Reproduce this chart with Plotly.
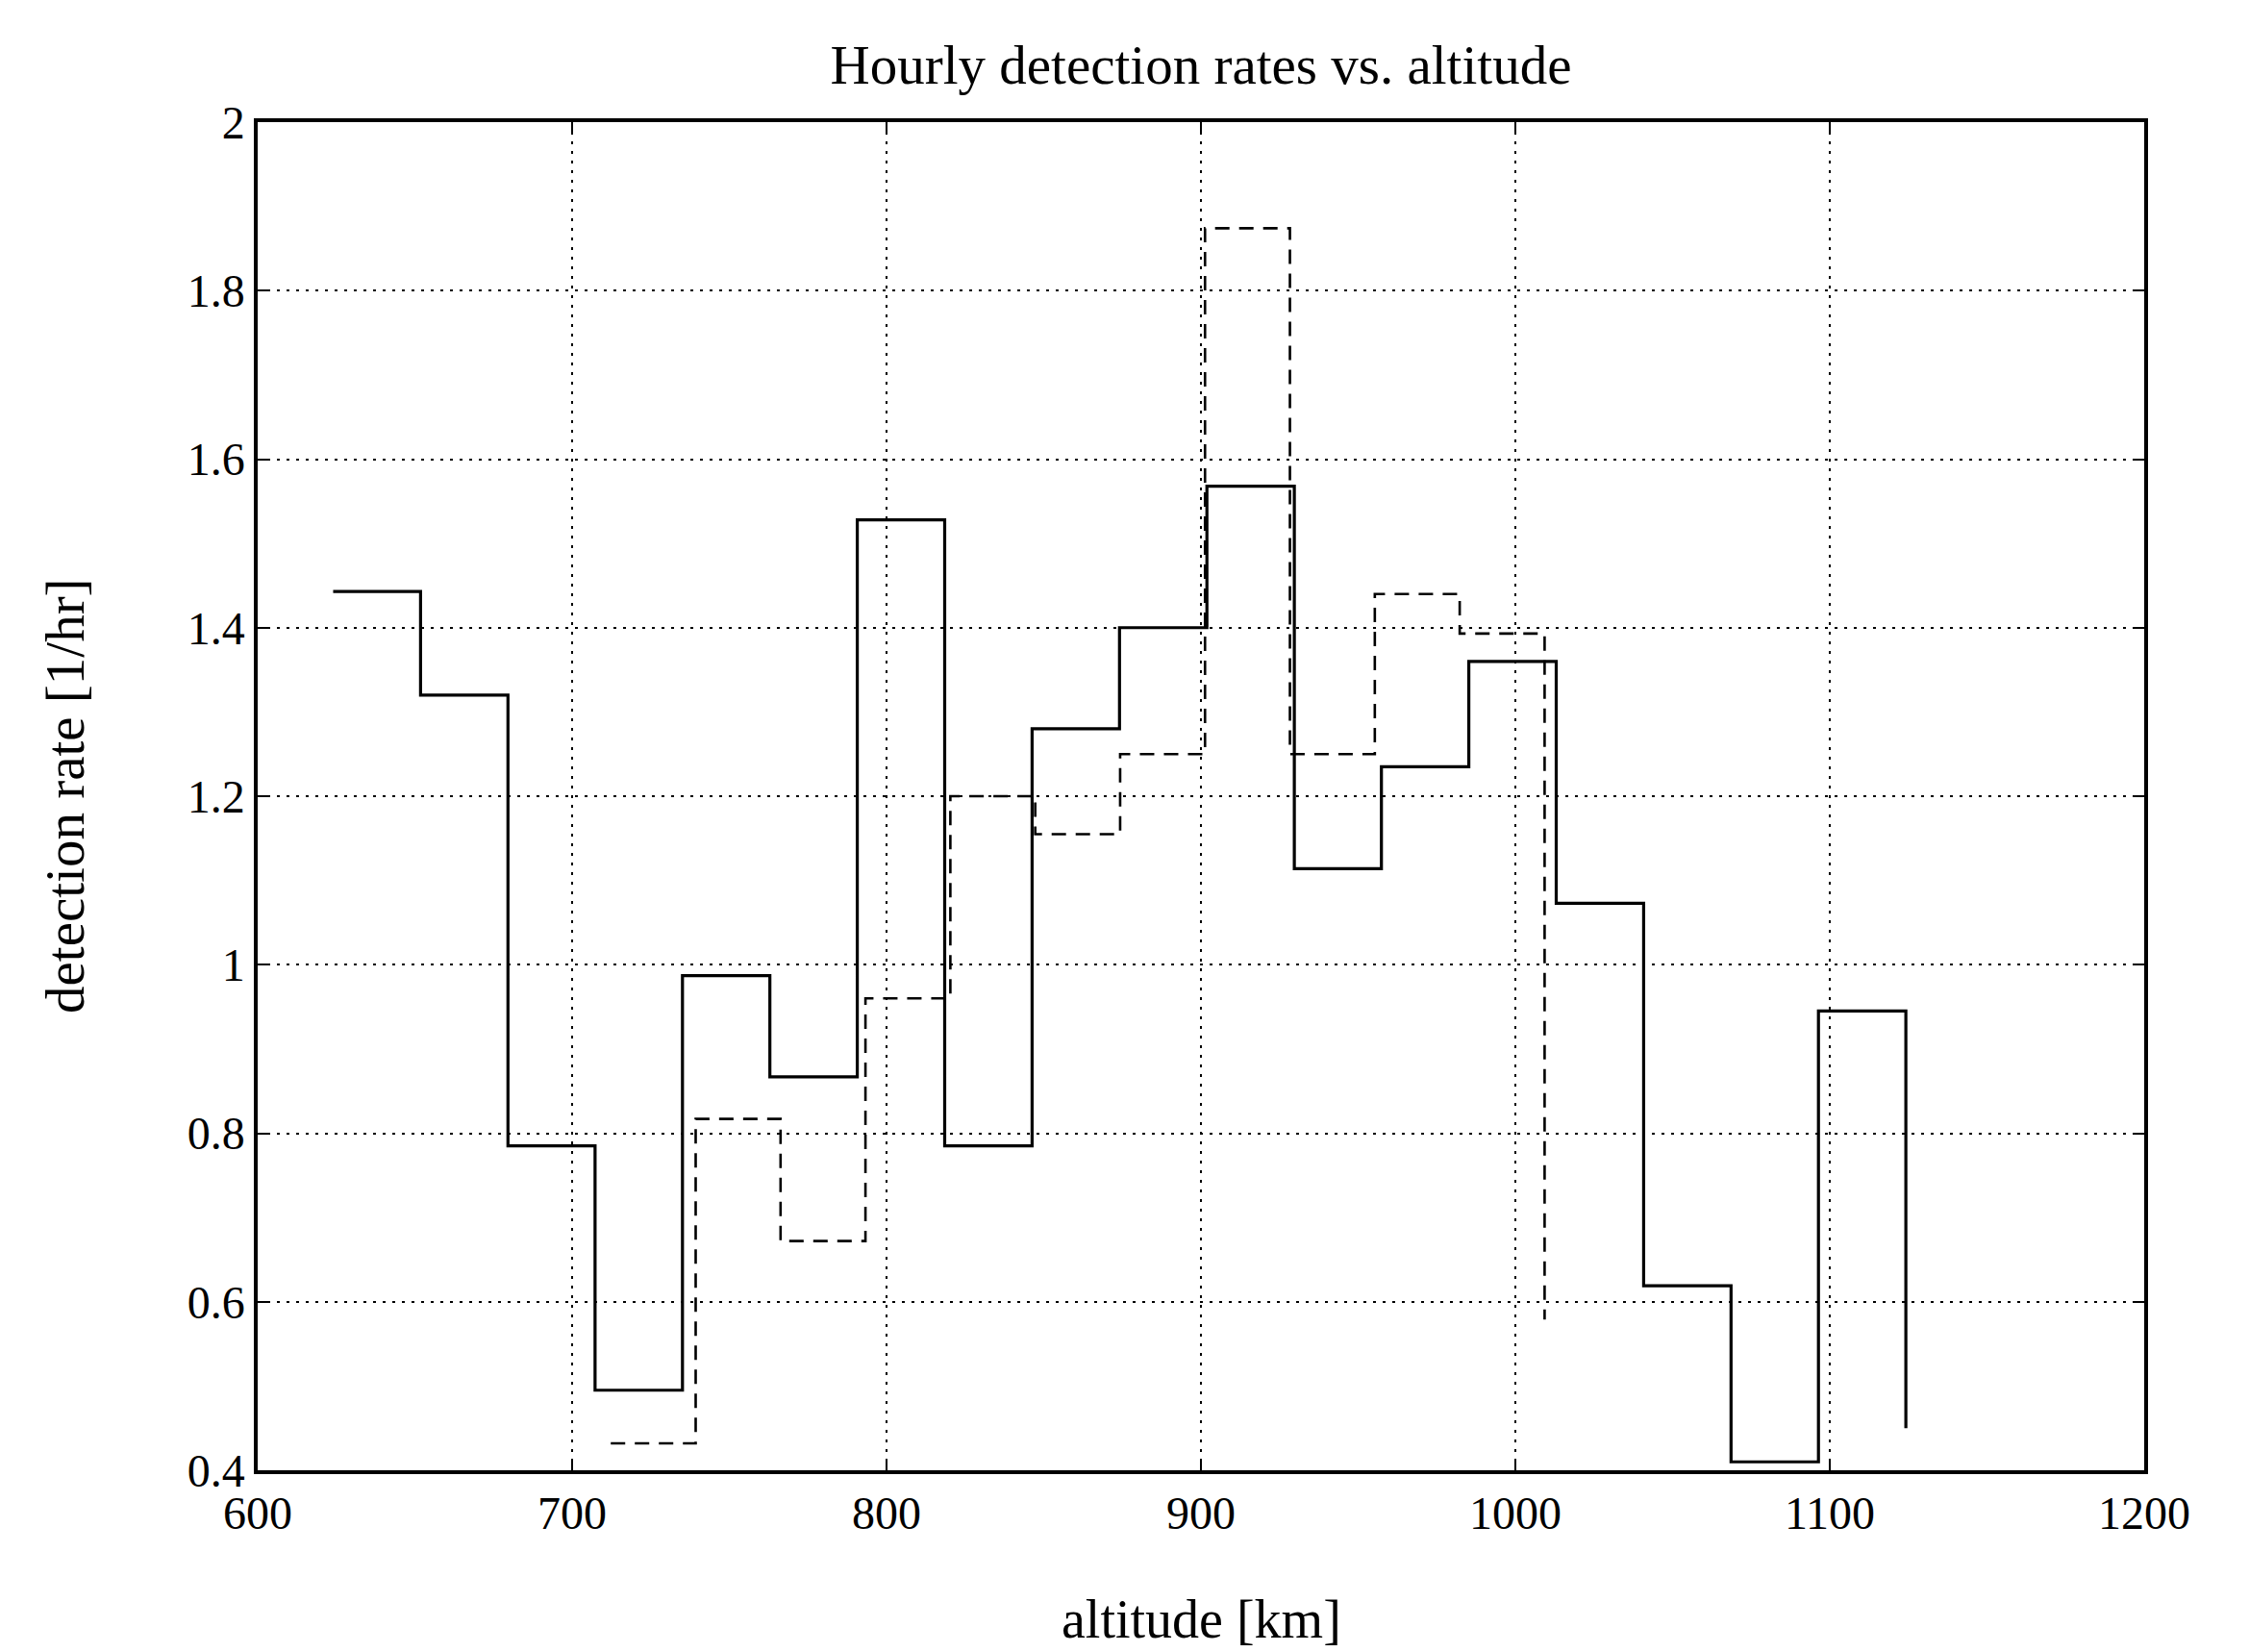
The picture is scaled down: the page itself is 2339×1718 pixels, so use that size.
import plotly.graph_objects as go

# Stairs data (MATLAB-style: horizontal from x[i] to x[i+1] at y[i])
solid_alt = [624.0, 651.8, 679.6, 707.3, 735.1, 762.9, 790.7, 818.5, 846.3, 874.1,
             901.9, 929.7, 957.4, 985.2, 1013.0, 1040.8, 1068.6, 1096.4, 1124.2]
solid_rate = [1.443, 1.32, 0.785, 0.495, 0.987, 0.867, 1.528, 0.785, 1.28, 1.40,
              1.568, 1.114, 1.235, 1.36, 1.073, 0.619, 0.41, 0.945, 0.45]

dashed_alt = [712.3, 739.3, 766.3, 793.3, 820.3, 847.3, 874.3, 901.3, 928.3,
              955.3, 982.3, 1009.3]
dashed_rate = [0.432, 0.817, 0.672, 0.96, 1.2, 1.155, 1.25, 1.874, 1.25,
               1.44, 1.393, 0.579]

x_ticks = [600, 700, 800, 900, 1000, 1100, 1200]
x_ticklabels = ["600", "700", "800", "900", "1000", "1100", "1200"]
y_ticks = [0.4, 0.6, 0.8, 1.0, 1.2, 1.4, 1.6, 1.8, 2.0]
y_ticklabels = ["0.4", "0.6", "0.8", "1", "1.2", "1.4", "1.6", "1.8", "2"]

title_text = "Hourly detection rates vs. altitude"
xlabel_text = "altitude [km]"
ylabel_text = "detection rate [1/hr]"

FONT = "Liberation Serif"

fig = go.Figure()
fig.add_trace(go.Scatter(x=solid_alt, y=solid_rate, mode="lines",
                         line=dict(shape="hv", color="black", width=3.2),
                         showlegend=False))
fig.add_trace(go.Scatter(x=dashed_alt, y=dashed_rate, mode="lines",
                         line=dict(shape="hv", color="black", width=2.6,
                                   dash="15px,10px"),
                         showlegend=False))

W, H = 2339, 1718
L, R, T, B = 268, 109, 127, 189

axis_common = dict(
    showline=True, linecolor="black", linewidth=3.5, mirror="ticks",
    ticks="inside", ticklen=12, tickwidth=2, tickcolor="black",
    showgrid=True, gridcolor="black", gridwidth=2.2, griddash="3px,7px",
    zeroline=False,
    tickfont=dict(family=FONT, size=48, color="black"),
)

fig.update_layout(
    width=W, height=H,
    margin=dict(l=L, r=R, t=T, b=B),
    paper_bgcolor="white", plot_bgcolor="white",
    title=dict(text=title_text, x=(L + (W - R)) / 2 / W, xanchor="center",
               y=1 - 67 / H, yanchor="middle", yref="container",
               font=dict(family=FONT, size=57, color="black")),
    xaxis=dict(range=[600, 1200], tickvals=x_ticks, ticktext=x_ticklabels,
               **axis_common),
    yaxis=dict(range=[0.4, 2.0], tickvals=y_ticks, ticktext=y_ticklabels,
               **axis_common),
    showlegend=False,
)

fig.add_annotation(text=xlabel_text, xref="paper", yref="paper",
                   x=0.5, y=0, yshift=-155, xanchor="center", yanchor="middle",
                   showarrow=False, font=dict(family=FONT, size=56, color="black"))
fig.add_annotation(text=ylabel_text, xref="paper", yref="paper",
                   x=0, y=0.5, xshift=-(L - 67), xanchor="center", yanchor="middle",
                   textangle=-90, showarrow=False,
                   font=dict(family=FONT, size=57, color="black"))

fig.write_html("out.html")
